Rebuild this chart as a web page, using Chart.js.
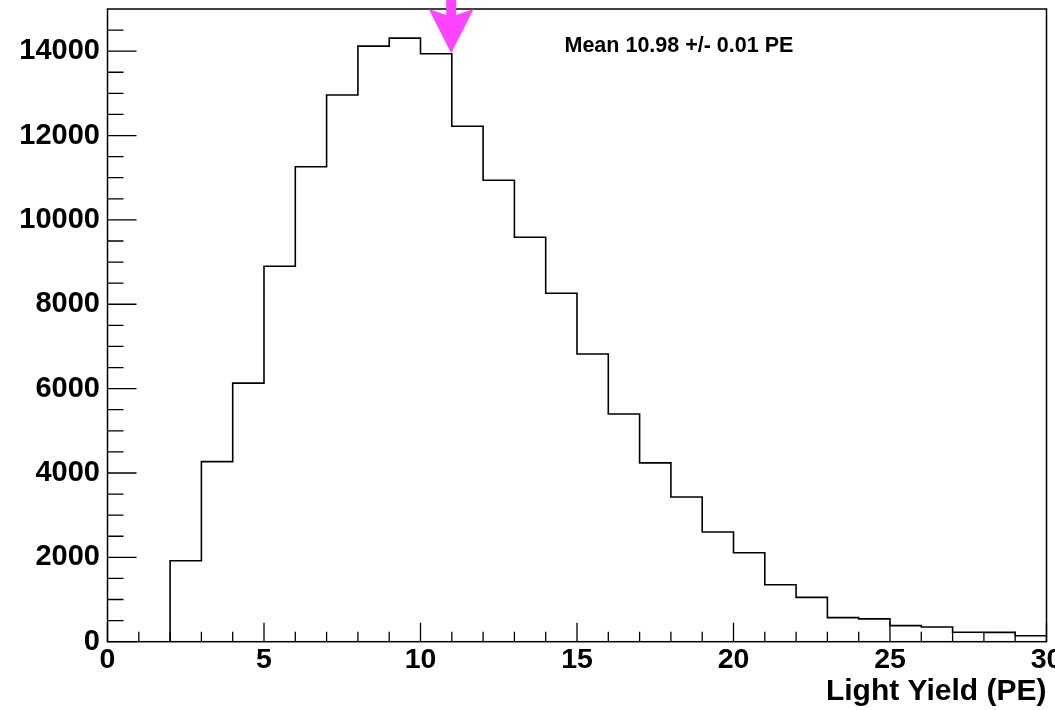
<!DOCTYPE html>
<html>
<head>
<meta charset="utf-8">
<script src="https://cdn.jsdelivr.net/npm/chart.js@4/dist/chart.umd.min.js"></script>
<style>
  body { margin: 0; background: #fff; }
  canvas { display: block; }
</style>
</head>
<body>
<canvas id="ly-chart" width="1055" height="710"></canvas>
<script>
// histogram bins (low edge, width 1 PE) and entries
var binLow = [0, 1, 2, 3, 4, 5, 6, 7, 8, 9, 10, 11, 12, 13, 14, 15, 16, 17, 18, 19, 20, 21, 22, 23, 24, 25, 26, 27, 28, 29];
var binWidth = 1;
var counts = [0, 0, 1920, 4270, 6130, 8900, 11260, 12960, 14120, 14310, 13940, 12220, 10940, 9590, 8260, 6820,
              5400, 4240, 3430, 2600, 2110, 1350, 1050, 570, 540, 380, 350, 225, 220, 140];

var xTickValues = [0, 5, 10, 15, 20, 25, 30];
var yTickValues = [0, 2000, 4000, 6000, 8000, 10000, 12000, 14000];

var meanValue = 10.98;
var meanText = 'Mean 10.98 +/- 0.01 PE';
var xTitle = 'Light Yield (PE)';

var FONT = '"Liberation Sans", Arial, Helvetica, sans-serif';

// step outline points, one per bin edge
var points = binLow.map(function(x, i) { return { x: x, y: counts[i] }; });
points.push({ x: binLow[binLow.length - 1] + binWidth, y: counts[counts.length - 1] });

function fixedTicks(values) {
  return function(scale) {
    scale.ticks = values.map(function(v) { return { value: v }; });
  };
}

// ROOT style frame + inside ticks + mean arrow + text
var rootDecor = {
  id: 'rootDecor',
  afterDraw: function(chart) {
    var ctx = chart.ctx;
    var a = chart.chartArea;
    var xs = chart.scales.x, ys = chart.scales.y;
    ctx.save();
    ctx.strokeStyle = '#000';
    ctx.lineWidth = 1.5;
    ctx.strokeRect(a.left, a.top, a.right - a.left, a.bottom - a.top);

    ctx.lineWidth = 1.3;
    ctx.beginPath();
    for (var v = xs.min; v <= xs.max; v += 1) {
      var px = xs.getPixelForValue(v);
      var len = (v % 5 === 0) ? 19 : 10;
      ctx.moveTo(px, a.bottom);
      ctx.lineTo(px, a.bottom - len);
    }
    for (var w = ys.min; w < ys.max; w += 500) {
      var py = ys.getPixelForValue(w);
      var ylen = (w % 2000 === 0) ? 29 : 16;
      ctx.moveTo(a.left, py);
      ctx.lineTo(a.left + ylen, py);
    }
    ctx.stroke();

    // arrow at the mean
    var ax = xs.getPixelForValue(meanValue);
    var tip = ys.getPixelForValue(counts[10]) - 0.5;
    ctx.fillStyle = '#ff44ff';
    ctx.beginPath();
    ctx.moveTo(ax - 5, 0);
    ctx.lineTo(ax + 5, 0);
    ctx.lineTo(ax + 5, 15);
    ctx.lineTo(ax + 22.5, 9);
    ctx.lineTo(ax, tip);
    ctx.lineTo(ax - 22.5, 9);
    ctx.lineTo(ax - 5, 15);
    ctx.closePath();
    ctx.fill();

    ctx.fillStyle = '#000';
    ctx.font = 'bold 21.5px ' + FONT;
    ctx.textAlign = 'left';
    ctx.textBaseline = 'alphabetic';
    ctx.fillText(meanText, a.left + 457, 52);
    ctx.restore();
  }
};

var ctx = document.getElementById('ly-chart').getContext('2d');
var chart = new Chart(ctx, {
  type: 'line',
  data: {
    datasets: [{
      data: points,
      stepped: 'before',
      borderColor: '#000',
      borderWidth: 1.6,
      pointRadius: 0,
      fill: false,
      tension: 0
    }]
  },
  options: {
    responsive: false,
    animation: false,
    layout: { padding: { top: 9, right: 8.5, left: 0, bottom: 0 } },
    plugins: { legend: { display: false }, tooltip: { enabled: false } },
    scales: {
      x: {
        type: 'linear',
        min: 0,
        max: 30,
        afterBuildTicks: fixedTicks(xTickValues),
        ticks: {
          padding: 1,
          maxRotation: 0,
          autoSkip: false,
          color: '#000',
          font: { family: FONT, weight: 'bold', size: 28.5 },
          callback: function(v) { return String(v); }
        },
        grid: { display: false, drawTicks: false },
        border: { display: false },
        title: {
          display: true,
          text: xTitle,
          align: 'end',
          color: '#000',
          padding: { top: 0, bottom: 0 },
          font: { family: FONT, weight: 'bold', size: 30 }
        },
        afterFit: function(s) {
          s.height = 68.3;
          s.paddingLeft = 0;
          s.paddingRight = 0;
        }
      },
      y: {
        min: 0,
        max: 15000,
        afterBuildTicks: fixedTicks(yTickValues),
        ticks: {
          padding: 7.5,
          autoSkip: false,
          color: '#000',
          font: { family: FONT, weight: 'bold', size: 29 },
          callback: function(v) { return String(v); }
        },
        grid: { display: false, drawTicks: false },
        border: { display: false },
        afterFit: function(s) {
          s.width = 107.5;
          s.paddingTop = 0;
          s.paddingBottom = 0;
        }
      }
    }
  },
  plugins: [rootDecor]
});
</script>
</body>
</html>
